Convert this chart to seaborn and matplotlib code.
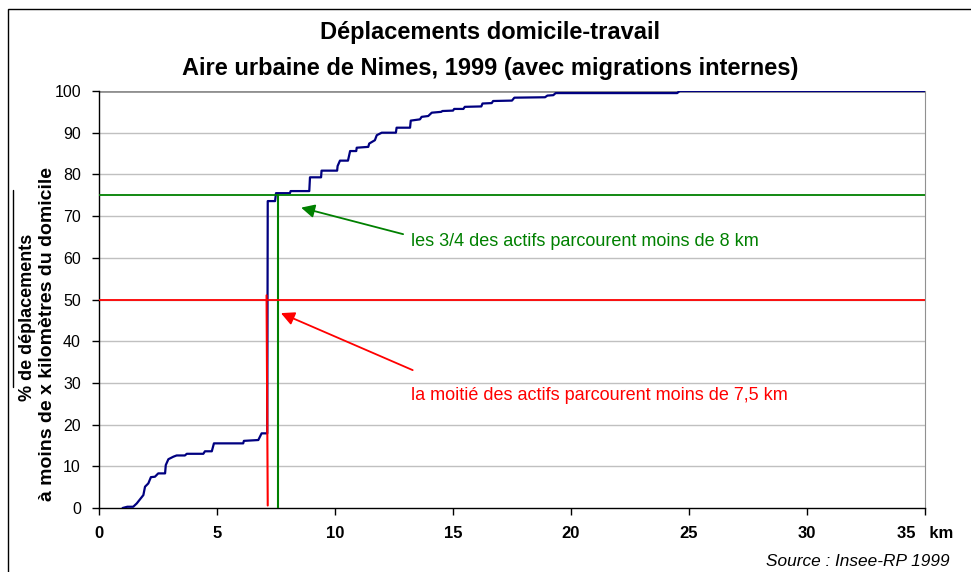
import matplotlib
matplotlib.use('Agg')
import matplotlib.pyplot as plt
import seaborn as sns
import pandas as pd
from matplotlib.patches import Rectangle
from matplotlib.lines import Line2D

# Courbe cumulée (km, % de déplacements)
km = [1.0, 1.2, 1.45, 1.6, 1.74, 1.88, 1.95, 2.09, 2.2, 2.37, 2.51, 2.8, 2.83, 2.94,
      3.15, 3.29, 3.64, 3.72, 4.42, 4.49, 4.78, 4.87, 6.11, 6.14, 6.75, 6.89, 7.13,
      7.15, 7.46, 7.5, 8.09, 8.12, 8.91, 8.94, 9.41, 9.43, 10.09, 10.11, 10.21, 10.55,
      10.64, 10.9, 10.92, 11.41, 11.45, 11.69, 11.77, 11.98, 12.58, 12.61, 13.18, 13.21,
      13.6, 13.67, 13.95, 14.1, 14.5, 14.55, 15.0, 15.05, 15.44, 15.5, 16.2, 16.25,
      16.64, 16.7, 17.5, 17.6, 18.9, 19.0, 19.25, 19.35, 24.5, 24.6, 35.0]
pct = [0, 0.3, 0.3, 1.1, 2.1, 3.1, 5.1, 5.9, 7.4, 7.5, 8.3, 8.3, 10.3, 11.7,
       12.3, 12.6, 12.6, 13.0, 13.0, 13.6, 13.6, 15.5, 15.5, 16.1, 16.3, 17.9, 17.9,
       73.6, 73.6, 75.5, 75.5, 76.0, 76.0, 79.3, 79.3, 80.9, 80.9, 82.0, 83.3, 83.3,
       85.6, 85.6, 86.4, 86.6, 87.4, 88.2, 89.4, 90.0, 90.0, 91.2, 91.2, 92.9,
       93.2, 93.8, 94.0, 94.8, 95.0, 95.2, 95.3, 95.7, 95.7, 96.2, 96.3, 97.0,
       97.1, 97.6, 97.7, 98.4, 98.5, 98.9, 99.0, 99.5, 99.5, 100, 100]

# repères
mediane_km = 7.1
trois_quarts_km = 7.6
x_ticks = [0, 5, 10, 15, 20, 25, 30, 35]
x_labels = ['0', '5', '10', '15', '20', '25', '30', '35   km']
y_ticks = list(range(0, 101, 10))

df = pd.DataFrame({'km': km, 'pct': pct})

sns.set_style('white')
plt.rcParams['font.family'] = ['Liberation Sans', 'DejaVu Sans']
plt.rcParams['text.color'] = 'black'
plt.rcParams['xtick.color'] = 'black'
plt.rcParams['ytick.color'] = 'black'

fig = plt.figure(figsize=(9.71, 5.72), dpi=100)
ax = fig.add_axes([99/971, 1-508/572, 826/971, 417/572])

for y in y_ticks[1:-1]:
    ax.axhline(y, color='#c0c0c0', lw=1, zorder=0)
ax.axhline(100, color='#909090', lw=2, zorder=0)

sns.lineplot(data=df, x='km', y='pct', color='#000080', lw=1.6, ax=ax, zorder=3)

# lignes de repère
ax.axhline(75, color='#008000', lw=1.3, zorder=4)
ax.plot([trois_quarts_km, trois_quarts_km], [0, 75], color='#008000', lw=1.5, zorder=4)
ax.axhline(50, color='#ff0000', lw=1.3, zorder=4)
ax.plot([mediane_km, mediane_km + 0.05], [51, 0.6], color='#ff0000', lw=1.5, zorder=4)

ax.annotate('', xy=(8.45, 72.2), xytext=(13.0, 65.5),
            arrowprops=dict(arrowstyle='-|>', color='#008000', lw=1.3, mutation_scale=20))
ax.annotate('', xy=(7.6, 47.0), xytext=(13.4, 32.8),
            arrowprops=dict(arrowstyle='-|>', color='#ff0000', lw=1.3, mutation_scale=20))
ax.text(13.2, 64, 'les 3/4 des actifs parcourent moins de 8 km', color='#008000',
        fontsize=13, va='center')
ax.text(13.2, 27, 'la moitié des actifs parcourent moins de 7,5 km', color='#ff0000',
        fontsize=13, va='center')

ax.set_xlim(0, 35)
ax.set_ylim(0, 100)
ax.set_xticks(x_ticks)
ax.set_xticklabels(x_labels, fontweight='bold', fontsize=12)
ax.set_yticks(y_ticks)
ax.set_yticklabels([str(v) for v in y_ticks], fontsize=11.5)
ax.tick_params(axis='both', direction='out', length=5, width=1, color='black',
               bottom=True, left=True, pad=8)
ax.set_xlabel('')
ax.set_ylabel('')
for s in ['left', 'bottom']:
    ax.spines[s].set_color('black')
    ax.spines[s].set_linewidth(1)
ax.spines['right'].set_color('#909090')
ax.spines['top'].set_visible(False)

fig.text(490/971, 1-33/572, 'Déplacements domicile-travail', ha='center', va='center',
         fontsize=17, fontweight='bold')
fig.text(490/971, 1-68/572, 'Aire urbaine de Nimes, 1999 (avec migrations internes)',
         ha='center', va='center', fontsize=17, fontweight='bold')

fig.text(27/971, 1-317/572, '% de déplacements', rotation=90, ha='center', va='center',
         fontsize=13, fontweight='bold')
fig.text(47/971, 1-334/572, 'à moins de x kilomètres du domicile', rotation=90,
         ha='center', va='center', fontsize=14, fontweight='bold')
fig.add_artist(Line2D([12.5/971, 12.5/971], [1-190/572, 1-387/572], color='black', lw=1))

fig.text(950/971, 1-562/572, 'Source : Insee-RP 1999', ha='right', va='center',
         fontsize=12.4, style='italic')

fig.add_artist(Rectangle((8/971, -0.1), 1.1, 1 - 9/572 + 0.1, fill=False,
                         edgecolor='black', lw=1, transform=fig.transFigure))

fig.savefig('out.png', dpi=100)
